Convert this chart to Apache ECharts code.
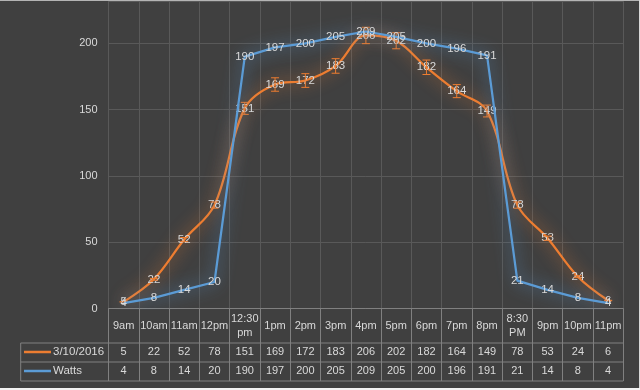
<!DOCTYPE html>
<html>
<head>
<meta charset="utf-8">
<script src="https://cdn.jsdelivr.net/npm/echarts@6/dist/echarts.min.js"></script>
<style>
html,body{margin:0;padding:0;background:#404040;}
#main{width:640px;height:390px;}
</style>
</head>
<body>
<div id="main"></div>
<script>
const categories = ['9am','10am','11am','12pm','12:30\npm','1pm','2pm','3pm','4pm','5pm','6pm','7pm','8pm','8:30\nPM','9pm','10pm','11pm'];
const seriesDateName = '3/10/2016';
const seriesDate = [5,22,52,78,151,169,172,183,206,202,182,164,149,78,53,24,6];
const seriesWattsName = 'Watts';
const seriesWatts = [4,8,14,20,190,197,200,205,209,205,200,196,191,21,14,8,4];
const yMin = 0, yMaxVisible = 232, yStep = 50;
const errorPercent = 0.03;

const ORANGE = '#ED7D31';
const BLUE = '#5B9BD5';
const TXT = '#d9d9d9';
const GRIDC = '#595959';
const TABLEC = '#808080';
const FONT = 'Liberation Sans';

const chart = echarts.init(document.getElementById('main'), null, {renderer:'canvas'});

const GRID_LEFT = 108.5, GRID_RIGHT = 640 - 623.3, GRID_BOTTOM = 390 - 308.5, GRID_TOP = 1;

function catAxis(idx, formatter, margin, showTicks) {
  return {
    type: 'category',
    data: categories,
    position: 'bottom',
    boundaryGap: true,
    gridIndex: 0,
    axisLine: {show: idx === 0, lineStyle: {color: TABLEC, width: 1}},
    axisTick: {show: showTicks, interval: 0, length: 72.5, lineStyle: {color: TABLEC, width: 1}},
    splitLine: {show: idx === 0, interval: 0, lineStyle: {color: GRIDC, width: 1}},
    axisLabel: {
      interval: 0, margin: margin, color: TXT, fontFamily: FONT, fontSize: 11,
      verticalAlign: 'middle', lineHeight: 14, formatter: formatter
    }
  };
}

const option = {
  animation: false,
  backgroundColor: '#404040',
  grid: {left: GRID_LEFT, right: GRID_RIGHT, top: GRID_TOP, bottom: GRID_BOTTOM, containLabel: false},
  xAxis: [
    catAxis(0, v => v, 17.5, true),
    catAxis(1, (v, i) => String(seriesDate[i]), 43.5, false),
    catAxis(2, (v, i) => String(seriesWatts[i]), 62.5, false)
  ],
  yAxis: {
    type: 'value',
    min: yMin, max: yMaxVisible, interval: yStep,
    axisLine: {show: false}, axisTick: {show: false},
    splitLine: {lineStyle: {color: GRIDC, width: 1}},
    axisLabel: {color: TXT, fontFamily: FONT, fontSize: 11, margin: 11, showMaxLabel: false,
      formatter: v => (v % yStep === 0 ? String(v) : '')}
  },
  series: [
    {
      name: seriesDateName, type: 'line', data: seriesDate, xAxisIndex: 0,
      smooth: 0.35, symbol: 'circle', symbolSize: 0.1, showSymbol: true,
      itemStyle: {color: ORANGE},
      lineStyle: {color: ORANGE, width: 2.25, shadowBlur: 16, shadowColor: 'rgba(237,125,49,1)'},
      label: {show: true, position: 'inside', color: TXT, fontFamily: FONT, fontSize: 11.5},
      z: 2
    },
    {
      name: 'err', type: 'custom', xAxisIndex: 0,
      data: seriesDate.map((v, i) => [i, v, v * errorPercent]),
      renderItem: function (params, api) {
        const i = api.value(0), v = api.value(1), e = api.value(2);
        const top = api.coord([i, v + e]);
        const bot = api.coord([i, v - e]);
        const hw = 4;
        const st = {stroke: ORANGE, lineWidth: 1};
        return {type: 'group', children: [
          {type: 'line', shape: {x1: top[0], y1: top[1], x2: bot[0], y2: bot[1]}, style: st},
          {type: 'line', shape: {x1: top[0]-hw, y1: top[1], x2: top[0]+hw, y2: top[1]}, style: st},
          {type: 'line', shape: {x1: bot[0]-hw, y1: bot[1], x2: bot[0]+hw, y2: bot[1]}, style: st}
        ]};
      },
      z: 3
    },
    {
      name: seriesWattsName, type: 'line', data: seriesWatts, xAxisIndex: 0,
      smooth: false, symbol: 'circle', symbolSize: 0.1, showSymbol: true,
      itemStyle: {color: BLUE},
      lineStyle: {color: BLUE, width: 2.25, shadowBlur: 16, shadowColor: 'rgba(91,155,213,1)'},
      label: {show: true, position: 'inside', color: TXT, fontFamily: FONT, fontSize: 11.5},
      z: 4
    }
  ]
};
chart.setOption(option);

// Data-table borders and legend keys
const L = 20.7, R = 623.3, R1 = 343, R2 = 362, R3 = 381;
const lineEl = (x1, y1, x2, y2, c, w) => ({type: 'line', silent: true, z: 10,
  shape: {x1, y1, x2, y2}, style: {stroke: c, lineWidth: w || 1}});
const graphics = [
  lineEl(L, R1, R, R1, TABLEC),
  lineEl(L, R2, R, R2, TABLEC),
  lineEl(L, R3, R, R3, TABLEC),
  lineEl(L, R1, L, R3, TABLEC),
  lineEl(24, 352, 51, 352, ORANGE, 2.5),
  lineEl(24, 371, 51, 371, BLUE, 2.5),
  {type: 'text', z: 10, x: 53, y: 352, style: {text: seriesDateName, fill: TXT, font: '11.5px ' + FONT, verticalAlign: 'middle', align: 'left'}},
  {type: 'text', z: 10, x: 53, y: 371, style: {text: seriesWattsName, fill: TXT, font: '11.5px ' + FONT, verticalAlign: 'middle', align: 'left'}},
  {type: 'rect', z: 20, shape: {x: 0, y: 0, width: 640, height: 1}, style: {fill: '#b4b4b4'}},
  {type: 'rect', z: 20, shape: {x: 639, y: 0, width: 1, height: 390}, style: {fill: '#d8d8d8'}},
  {type: 'rect', z: 20, shape: {x: 0, y: 388, width: 640, height: 2}, style: {fill: '#f2f2f2'}}
];
chart.setOption({graphic: graphics});
</script>
</body>
</html>
